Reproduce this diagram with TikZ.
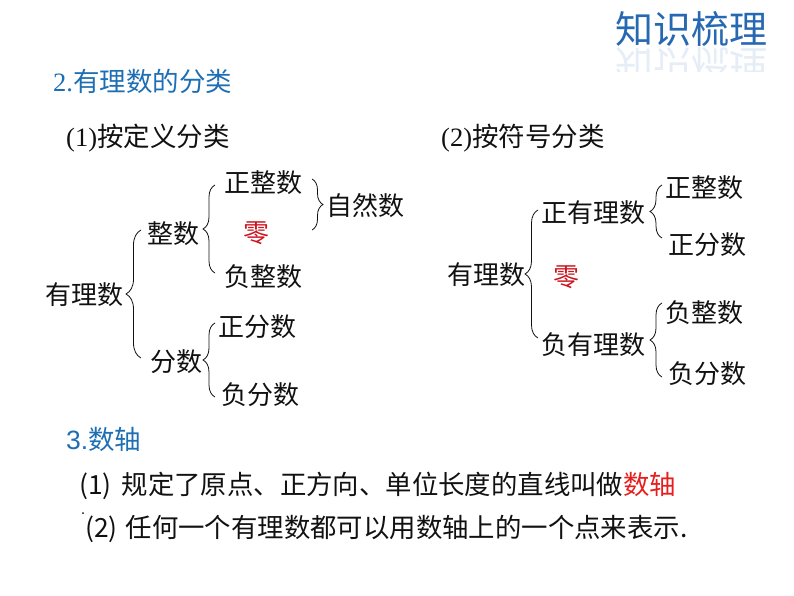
\documentclass[tikz,border=0pt]{standalone}
\usepackage{fontspec}
\setmainfont{Noto Sans CJK SC}
\newfontfamily\lserif{Liberation Serif}
\newfontfamily\lsans{Liberation Sans}
\usetikzlibrary{decorations.pathreplacing}
\definecolor{hblue}{RGB}{30,110,180}
\definecolor{tblue}{RGB}{38,104,178}
\definecolor{zred}{RGB}{205,20,30}
\definecolor{kred}{RGB}{230,30,30}
\definecolor{ink}{RGB}{17,17,17}
\begin{document}
\begin{tikzpicture}[x=1pt,y=-1pt,
  txt/.style={anchor=west,inner sep=0pt,text height=22.9pt,text depth=3.1pt,text=ink,font=\fontsize{26}{30}\selectfont},
  head/.style={txt,font=\fontsize{26.5}{30}\selectfont},
  body/.style={txt,font=\fontsize{26.4}{30}\selectfont},
  ttl/.style={anchor=west,inner sep=0pt,text height=33.4pt,text depth=4.6pt,font=\fontsize{38}{42}\selectfont},
  zero/.style={txt,text=zred},
  brc/.style={draw=ink,line width=0.8pt,decorate,decoration={brace,amplitude=#1}},
  brc/.default=12pt]
\useasboundingbox (0,0) rectangle (794,596);

% title
\node[ttl,text=tblue] (title) at (615,29) {知识梳理};
\begin{scope}
  \clip (600,47) rectangle (790,72);
  \node[ttl,text=tblue!12,yscale=-1,transform shape] (titlerefl) at (615,65) {知识梳理};
\end{scope}

% headings
\node[head,text=hblue] (h2) at (53,82) {{\lserif 2.}有理数的分类};
\node[head] (h21) at (66,137) {{\lserif (1)}按定义分类};
\node[head] (h22) at (441,137) {{\lserif (2)}按符号分类};

% left tree
\node[txt] (a0) at (45,295) {有理数};
\node[txt] (a1) at (147,234) {整数};
\node[txt] (a11) at (224,183) {正整数};
\node[zero] (a12) at (243,233) {零};
\node[txt] (a13) at (224,277) {负整数};
\node[txt] (a14) at (326,206) {自然数};
\node[txt] (a2) at (150,362) {分数};
\node[txt] (a21) at (218,327) {正分数};
\node[txt] (a22) at (221,395) {负分数};

\coordinate (lb0s) at (141,358); \coordinate (lb0e) at (141,230);
\coordinate (lb1s) at (215,273); \coordinate (lb1e) at (215,185);
\coordinate (lb2s) at (312,179); \coordinate (lb2e) at (312,230);
\coordinate (lb3s) at (215,397); \coordinate (lb3e) at (215,323);
\draw[brc=15pt] (lb0s) -- (lb0e);
\draw[brc=12pt] (lb1s) -- (lb1e);
\draw[brc=11pt] (lb2s) -- (lb2e);
\draw[brc=12pt] (lb3s) -- (lb3e);

% right tree
\node[txt] (r0) at (447,275) {有理数};
\node[txt] (r1) at (541,213) {正有理数};
\node[zero] (rz) at (553,277) {零};
\node[txt] (r2) at (541,345) {负有理数};
\node[txt] (r11) at (665,188) {正整数};
\node[txt] (r12) at (668,245) {正分数};
\node[txt] (r21) at (665,313) {负整数};
\node[txt] (r22) at (668,374) {负分数};

\coordinate (rb0s) at (538,338); \coordinate (rb0e) at (538,210);
\coordinate (rb1s) at (662,238); \coordinate (rb1e) at (662,185);
\coordinate (rb2s) at (662,377); \coordinate (rb2e) at (662,303);
\draw[brc=13pt] (rb0s) -- (rb0e);
\draw[brc=12pt] (rb1s) -- (rb1e);
\draw[brc=12pt] (rb2s) -- (rb2e);

% number line section
\node[head,text=hblue] (h3) at (66,440) {{\lsans 3.}数轴};
\node[body] (l1) at (79,485) {(1)\hspace{10pt}规定了原点、正方向、单位长度的直线叫做{\color{kred}数轴}};
\coordinate (dot) at (83,513);
\fill[ink] (dot) circle (1pt);
\node[body] (l2) at (85,528) {(2)\hspace{8pt}任何一个有理数都可以用数轴上的一个点来表示.};
\end{tikzpicture}
\end{document}
